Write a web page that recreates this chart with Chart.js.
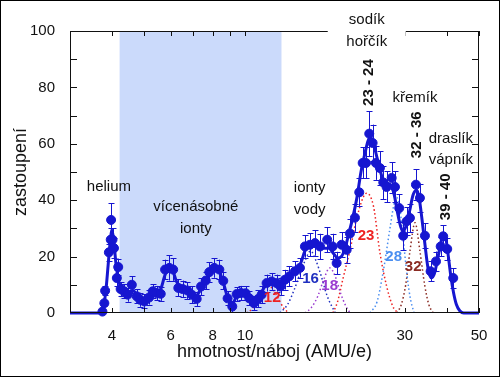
<!DOCTYPE html>
<html>
<head>
<meta charset="utf-8">
<script src="https://cdn.jsdelivr.net/npm/chart.js@4.4.1/dist/chart.umd.min.js"></script>
<style>
  html, body { margin: 0; padding: 0; background: #fff; }
  canvas { display: block; }
</style>
</head>
<body>
<canvas id="chart" width="500" height="377"></canvas>
<script>
// measured points: mass/charge (AMU/e), abundance and error
const massPts = [
    3.75, 3.80, 3.82, 3.92, 3.97, 3.98, 4.02, 4.06, 4.14, 4.18,
    4.25, 4.35, 4.46, 4.59, 4.75, 4.86, 5.00, 5.17, 5.30, 5.44,
    5.60, 5.77, 5.94, 6.10, 6.32, 6.51, 6.72, 6.93, 7.17, 7.39,
    7.63, 7.82, 8.09, 8.38, 8.61, 8.87, 9.16, 9.44, 9.73, 10.04,
    10.30, 10.63, 10.95, 11.21, 11.60, 12.01, 12.43, 12.77, 13.16, 13.56,
    14.10, 14.59, 15.10, 15.63, 16.18, 16.75, 17.60, 18.27, 18.78, 19.43,
    20.12, 20.58, 21.30, 21.94, 22.46, 22.98, 23.50, 24.05, 24.61, 25.29,
    25.88, 26.48, 27.42, 28.05, 28.89, 29.69, 30.39, 31.09, 32.40, 33.30,
    34.47, 35.84, 37.20, 38.42, 39.09, 40.19, 41.88
];
const abundance = [
    0.5, 3.5, 7.9, 21.5, 26, 33, 26, 23, 12.4, 16.3,
    8.5, 7.7, 6.5, 10, 5.9, 4.7, 4.1, 5.5, 7.7, 7.1,
    6.8, 15.4, 16, 15.4, 8.9, 8.5, 8.0, 6.5, 5.0, 9.4,
    11.5, 14.5, 16, 15.4, 11.4, 5.2, 2.3, 6.7, 7.1, 7.0,
    5.2, 3.5, 5.0, 6.5, 10.6, 11.2, 10.6, 9.4, 11.8, 13.0,
    14.8, 16.0, 23.6, 24.2, 24.8, 23.6, 26.0, 23.6, 17.7, 24.2,
    22.4, 28.2, 33.8, 42.8, 53.2, 53.2, 63.6, 60.3, 53.2, 51.4,
    46.3, 44.7, 47.9, 44.7, 37.2, 27.4, 32.5, 33.7, 45.5, 40.8,
    27.4, 14.8, 18.3, 23.6, 27.2, 22.7, 12.4
];
const abundanceErr = [
    0.5, 1, 1.5, 3, 4, 6, 4, 3.5, 3, 3,
    2.5, 2.5, 2.5, 3, 2.5, 2.5, 2.5, 2.5, 2.5, 2.5,
    2.5, 3.5, 4.5, 4, 3, 3, 3, 3, 2.5, 3,
    3, 3.5, 3.5, 3.5, 3, 2.5, 2, 2.5, 2.5, 2.5,
    2.5, 2.5, 3, 3, 3, 3, 3, 3, 3.5, 3.5,
    3.5, 3.5, 4, 4, 4.5, 4.5, 4.5, 4.5, 4, 4.5,
    4.5, 5, 5, 5, 5.5, 5.5, 8, 6.5, 6, 6,
    6, 5.5, 5.5, 5.5, 5, 5, 5, 5, 5.5, 5,
    4.5, 3.5, 3.5, 3.5, 4, 4, 3.5
];

// smooth fit curve
const fitMass = [
    3, 3.65, 3.72, 3.78, 3.84, 3.9, 3.96, 4.0, 4.05, 4.12,
    4.2, 4.35, 4.5, 4.62, 4.8, 5.0, 5.2, 5.4, 5.6, 5.75,
    5.9, 6.05, 6.25, 6.45, 6.7, 6.95, 7.15, 7.4, 7.7, 8.0,
    8.2, 8.4, 8.65, 8.9, 9.15, 9.4, 9.8, 10.1, 10.4, 10.7,
    11.0, 11.4, 11.8, 12.3, 12.8, 13.2, 13.7, 14.2, 14.7, 15.1,
    15.5, 16.0, 16.6, 17.2, 17.8, 18.4, 18.9, 19.4, 19.9, 20.4,
    21.0, 21.6, 22.2, 22.8, 23.3, 23.7, 24.2, 24.8, 25.4, 25.9,
    26.5, 27.2, 27.9, 28.5, 29.2, 29.7, 30.3, 31.0, 31.8, 32.6,
    33.1, 33.8, 34.5, 35.2, 36.0, 36.8, 37.6, 38.4, 39.1, 39.8,
    40.5, 41.2, 42.0, 42.8, 43.8, 45, 50
];
const fitValue = [
    0, 0, 0.5, 2.5, 8, 17, 26, 29.5, 26, 17,
    11, 8, 7.5, 8, 5.8, 4.6, 5.5, 7, 8.5, 13,
    16, 15.5, 11, 8.5, 8, 7, 6, 9, 12, 15.5,
    16, 14.5, 10, 5, 3, 5.5, 7, 6.5, 5, 4,
    5.5, 9, 11, 11, 10.5, 12, 13, 15, 18, 22,
    24, 24.5, 23.5, 23, 23, 21, 19.5, 20, 23, 28,
    34, 41, 50, 56.5, 61, 62.5, 60, 55, 50, 47,
    46, 45.5, 42, 36, 30.5, 29, 31, 36, 42, 43.5,
    41, 33, 24, 16, 12.5, 14, 19, 24.5, 28, 26.5,
    20, 13, 7, 3, 0.8, 0, 0
];

// single component peaks (dotted)
const peak12Mass = [10.1, 10.5, 10.9, 11.3, 11.7, 12.1, 12.6, 13.0, 13.5];
const peak12Value = [0, 1.5, 4.5, 8, 10, 8.5, 5, 2, 0];
const peak16Mass = [12.7, 13.4, 14.0, 14.6, 15.1, 15.7, 16.3, 16.9, 17.6, 18.6];
const peak16Value = [0, 3, 8, 14, 18.5, 22, 18.5, 13, 6, 0];
const peak18Mass = [15.1, 15.8, 16.5, 17.2, 17.9, 18.6, 19.3, 20.0, 20.6];
const peak18Value = [0, 2, 6, 12, 16, 13, 7, 2.5, 0];
const peak23Mass = [18.3, 18.9, 19.6, 20.6, 21.5, 22.6, 23.1, 24.2, 25.3, 26.5, 27.6, 28.6];
const peak23Value = [0, 4, 12, 22.5, 33, 41.3, 42.5, 37.8, 21.3, 9.4, 2.5, 0];
const peak28Mass = [23.6, 24.8, 25.9, 27.1, 27.8, 28.4, 29.0, 29.7, 30.5, 31.2, 32.0];
const peak28Value = [0, 4, 15, 30, 38, 41, 37, 26, 13, 5, 0];
const peak32Mass = [28.4, 29.3, 30.2, 31.1, 32.2, 33.3, 34.4, 35.4, 36.5];
const peak32Value = [0, 3, 10, 22, 32, 22, 10, 3, 0];

const xTickValues = [4, 5, 6, 7, 8, 9, 10, 20, 30, 40, 50];
const xTickLabeled = [4, 6, 8, 10, 30, 50];
const multiIonRange = [4.22, 12.85];

const toXY = (xs, ys) => xs.map((x, i) => ({ x: x, y: ys[i] }));

const BLUE = '#1616d0';
const FONT = "'Liberation Sans', Arial, sans-serif";

const peaks = [
    { name: '12', mass: peak12Mass, value: peak12Value, color: '#ee2222', at: [12.05, 5.4] },
    { name: '16', mass: peak16Mass, value: peak16Value, color: '#2030c0', at: [15.7, 12] },
    { name: '18', mass: peak18Mass, value: peak18Value, color: '#9a3cd0', at: [17.9, 9.5] },
    { name: '23', mass: peak23Mass, value: peak23Value, color: '#ee2222', at: [23.0, 27.3] },
    { name: '28', mass: peak28Mass, value: peak28Value, color: '#4a8ef0', at: [27.8, 19.8] },
    { name: '32', mass: peak32Mass, value: peak32Value, color: '#8a2a22', at: [31.8, 16.5] }
];

const notes = [
    { text: 'helium', m: 3.92, v: 44.8 },
    { text: 'vícenásobné', m: 7.13, v: 37.7 },
    { text: 'ionty', m: 7.13, v: 29.9 },
    { text: 'ionty', m: 15.6, v: 44.4 },
    { text: 'vody', m: 15.6, v: 36.6 },
    { text: 'sodík', m: 23.1, v: 104 },
    { text: 'hořčík', m: 23.1, v: 96.2 },
    { text: 'křemík', m: 32.2, v: 76.3 },
    { text: 'draslík', m: 41.2, v: 61.8 },
    { text: 'vápník', m: 41.2, v: 54.4 },
    { text: '23 - 24', m: 23.46, v: 81.7, rotated: true },
    { text: '32 - 36', m: 32.6, v: 63.2, rotated: true },
    { text: '39 - 40', m: 39.8, v: 41.2, rotated: true }
];

const decorPlugin = {
    id: 'decor',
    beforeDatasetsDraw(chart) {
        const { ctx, chartArea: a, scales: { x } } = chart;
        const x0 = x.getPixelForValue(multiIonRange[0]);
        const x1 = x.getPixelForValue(multiIonRange[1]);
        ctx.save();
        ctx.fillStyle = '#cbdafb';
        ctx.fillRect(x0, a.top, x1 - x0, a.bottom - a.top);
        ctx.restore();
    },
    afterDatasetsDraw(chart) {
        // error bars on the measured points
        const { ctx, scales: { y } } = chart;
        const meta = chart.getDatasetMeta(0);
        ctx.save();
        ctx.strokeStyle = BLUE;
        ctx.lineWidth = 1;
        meta.data.forEach((pt, i) => {
            const top = y.getPixelForValue(abundance[i] + abundanceErr[i]);
            const bot = y.getPixelForValue(Math.max(0, abundance[i] - abundanceErr[i]));
            const px = Math.round(pt.x) + 0.5;
            ctx.beginPath();
            ctx.moveTo(px, top);
            ctx.lineTo(px, bot);
            ctx.moveTo(px - 3, Math.round(top) + 0.5);
            ctx.lineTo(px + 3, Math.round(top) + 0.5);
            ctx.moveTo(px - 3, Math.round(bot) + 0.5);
            ctx.lineTo(px + 3, Math.round(bot) + 0.5);
            ctx.stroke();
        });
        ctx.restore();
    },
    afterDraw(chart) {
        const { ctx, chartArea: a, scales: { x, y } } = chart;
        ctx.save();

        // frame and inward ticks
        ctx.strokeStyle = '#111';
        ctx.lineWidth = 1;
        ctx.strokeRect(a.left + 0.5, a.top + 0.5, a.right - a.left - 1, a.bottom - a.top - 1);
        ctx.beginPath();
        for (let v = 10; v < 100; v += 10) {
            const py = Math.round(y.getPixelForValue(v)) + 0.5;
            ctx.moveTo(a.left, py); ctx.lineTo(a.left + 7, py);
            ctx.moveTo(a.right, py); ctx.lineTo(a.right - 7, py);
        }
        xTickValues.forEach(v => {
            const px = Math.round(x.getPixelForValue(v)) + 0.5;
            ctx.moveTo(px, a.top); ctx.lineTo(px, a.top + 5);
            ctx.moveTo(px, a.bottom); ctx.lineTo(px, a.bottom - 5);
        });
        ctx.stroke();

        // outer border of the picture
        ctx.strokeStyle = '#000';
        ctx.strokeRect(0.5, 0.5, chart.width - 1, chart.height - 1);

        // white box behind "sodík / hořčík" cuts the top frame
        const sx = x.getPixelForValue(23.1);
        ctx.fillStyle = '#fff';
        ctx.fillRect(sx - 39, 8, 78, a.top + 14);

        // text notes
        ctx.fillStyle = '#111';
        ctx.textAlign = 'center';
        ctx.textBaseline = 'middle';
        notes.forEach(n => {
            const px = x.getPixelForValue(n.m);
            const py = y.getPixelForValue(n.v);
            if (n.rotated) {
                ctx.save();
                ctx.translate(px, py);
                ctx.rotate(-Math.PI / 2);
                ctx.font = 'bold 15px ' + FONT;
                ctx.fillText(n.text, 0, 0);
                ctx.restore();
            } else {
                ctx.font = '15px ' + FONT;
                ctx.fillText(n.text, px, py);
            }
        });

        // peak labels
        ctx.font = 'bold 15px ' + FONT;
        peaks.forEach(p => {
            ctx.fillStyle = p.color;
            ctx.fillText(p.name, x.getPixelForValue(p.at[0]), y.getPixelForValue(p.at[1]));
        });
        ctx.restore();
    }
};

const datasets = [
    {
        label: 'měření',
        data: toXY(massPts, abundance),
        showLine: false,
        pointRadius: 4.5,
        pointBackgroundColor: BLUE,
        pointBorderColor: BLUE,
        clip: false
    },
    {
        label: 'fit',
        data: toXY(fitMass, fitValue),
        showLine: true,
        borderColor: BLUE,
        borderWidth: 3,
        pointRadius: 0,
        cubicInterpolationMode: 'monotone',
        clip: false
    }
];
peaks.forEach(p => {
    datasets.push({
        label: p.name,
        data: toXY(p.mass, p.value),
        showLine: true,
        borderColor: p.color,
        borderWidth: 1.5,
        borderDash: [1.5, 2.5],
        pointRadius: 0,
        cubicInterpolationMode: 'monotone'
    });
});

new Chart(document.getElementById('chart'), {
    type: 'scatter',
    data: { datasets: datasets },
    options: {
        responsive: false,
        animation: false,
        events: [],
        devicePixelRatio: 1,
        layout: { padding: { left: 0, right: 21, top: 31, bottom: 0 } },
        plugins: {
            legend: { display: false },
            tooltip: { enabled: false }
        },
        scales: {
            x: {
                type: 'logarithmic',
                min: 3,
                max: 50,
                grid: { display: false },
                border: { display: false },
                afterBuildTicks: (scale) => {
                    scale.ticks = xTickValues.map(v => ({ value: v }));
                },
                afterFit: (scale) => { scale.height = 64; },
                ticks: {
                    autoSkip: false,
                    maxRotation: 0,
                    padding: 6,
                    color: '#111',
                    font: { family: FONT, size: 15 },
                    callback: (value) => xTickLabeled.includes(value) ? String(value) : ''
                },
                title: {
                    display: true,
                    text: 'hmotnost/náboj (AMU/e)',
                    color: '#111',
                    font: { family: FONT, size: 18 },
                    padding: { top: 0, bottom: 14 }
                }
            },
            y: {
                min: 0,
                max: 100,
                grid: { display: false },
                border: { display: false },
                afterFit: (scale) => { scale.width = 70; },
                ticks: {
                    stepSize: 20,
                    padding: 7,
                    color: '#111',
                    font: { family: FONT, size: 15 }
                },
                title: {
                    display: true,
                    text: 'zastoupení',
                    color: '#111',
                    font: { family: FONT, size: 18 },
                    padding: { top: 10, bottom: 0 }
                }
            }
        }
    },
    plugins: [decorPlugin]
});
</script>
</body>
</html>
